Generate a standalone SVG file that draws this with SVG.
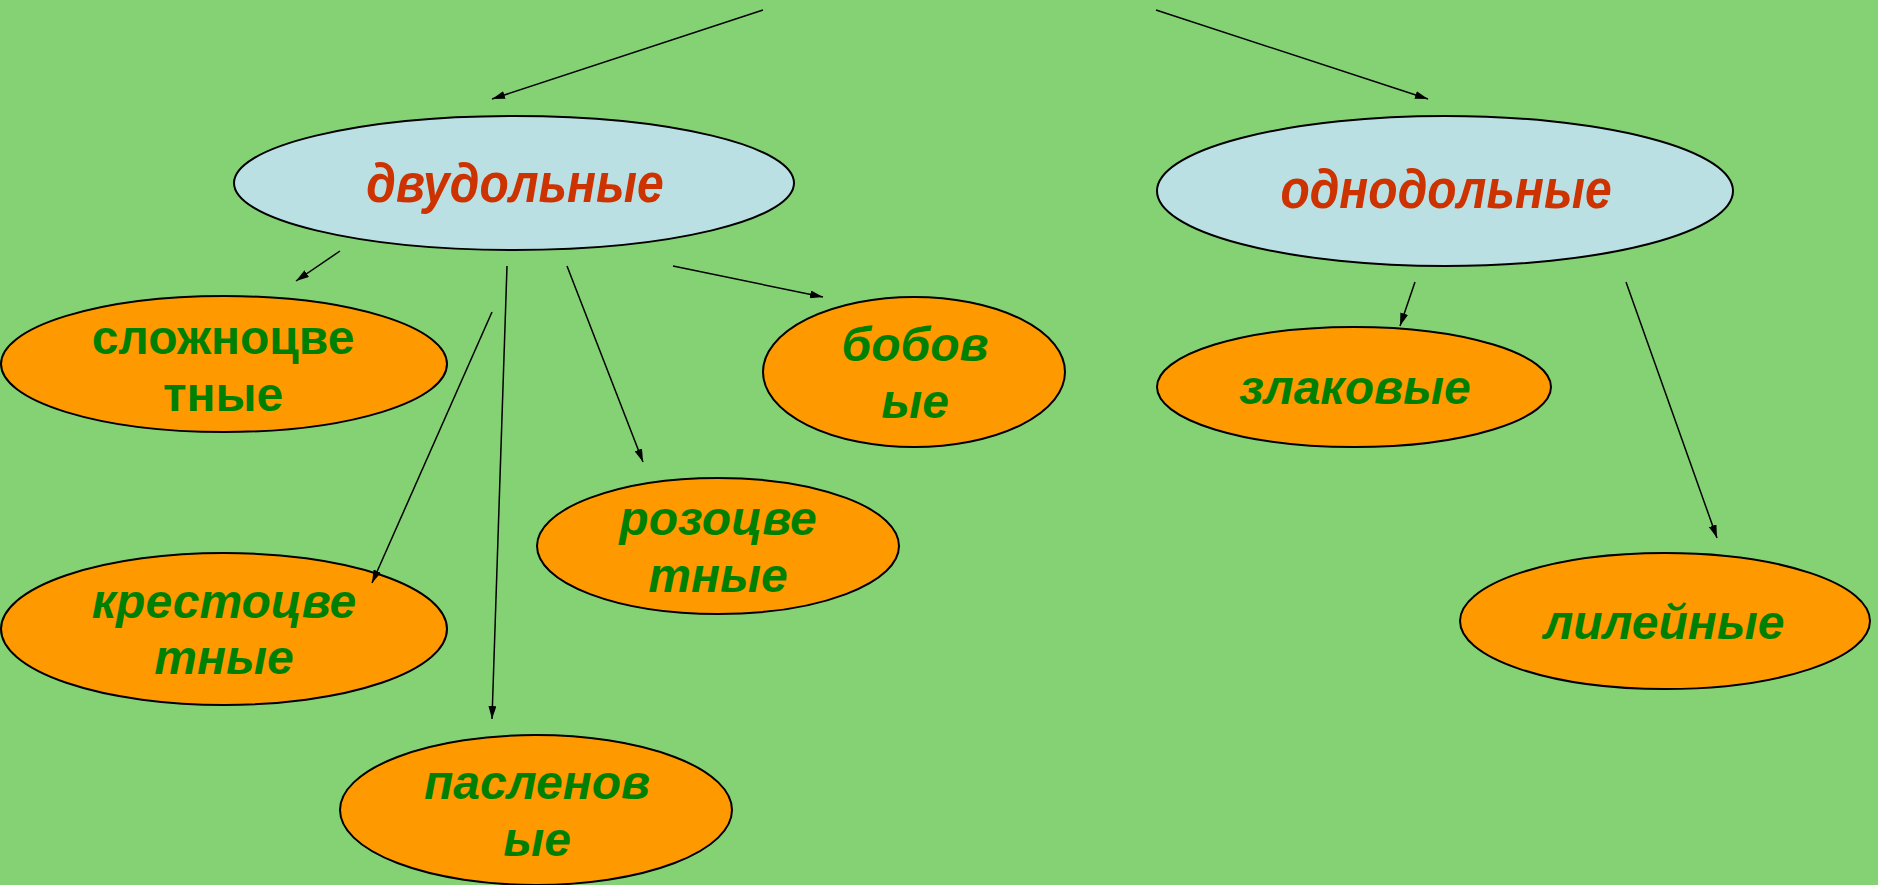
<svg xmlns="http://www.w3.org/2000/svg" width="1878" height="885" viewBox="0 0 1878 885">
<style>
.main{fill:#BBE0E3;stroke:#000;stroke-width:2}
.sub{fill:#FF9900;stroke:#000;stroke-width:2}
.t1{font-family:"Liberation Sans",Arial,sans-serif;font-weight:bold;font-style:italic;font-size:48px;fill:#CC3300;text-anchor:middle}
.t2{font-family:"Liberation Sans",Arial,sans-serif;font-weight:bold;font-style:italic;font-size:48px;fill:#008000;text-anchor:middle}
.n{font-style:normal}
.c{stroke:#000;stroke-width:1.5;fill:none;marker-end:url(#ah)}
</style>
<defs>
<marker id="ah" viewBox="0 0 13 8" refX="13" refY="4" markerWidth="13" markerHeight="8" markerUnits="userSpaceOnUse" orient="auto">
<path d="M0,0 L13,4 L0,8 Z" fill="#000"/>
</marker>
</defs>
<rect width="1878" height="885" fill="#85D275"/>
<g id="dvudolnye">
<ellipse class="main" cx="514" cy="183" rx="280" ry="67"/>
<text class="t1" transform="translate(515,202) scale(1,1.17)">двудольные</text>
</g>
<g id="odnodolnye">
<ellipse class="main" cx="1445" cy="191" rx="288" ry="75"/>
<text class="t1" transform="translate(1446,208) scale(1,1.17)">однодольные</text>
</g>
<g id="slozhnocvetnye">
<ellipse class="sub" cx="224" cy="364" rx="223" ry="68"/>
<text class="t2 n" x="223" y="354">сложноцве</text>
<text class="t2 n" x="223" y="411">тные</text>
</g>
<g id="bobovye">
<ellipse class="sub" cx="914" cy="372" rx="151" ry="75"/>
<text class="t2" x="915" y="361">бобов</text>
<text class="t2" x="915" y="418">ые</text>
</g>
<g id="zlakovye">
<ellipse class="sub" cx="1354" cy="387" rx="197" ry="60"/>
<text class="t2" x="1355" y="404">злаковые</text>
</g>
<g id="krestocvetnye">
<ellipse class="sub" cx="224" cy="629" rx="223" ry="76"/>
<text class="t2" x="224" y="618">крестоцве</text>
<text class="t2" x="224" y="674">тные</text>
</g>
<g id="rozocvetnye">
<ellipse class="sub" cx="718" cy="546" rx="181" ry="68"/>
<text class="t2" x="718" y="535">розоцве</text>
<text class="t2" x="718" y="592">тные</text>
</g>
<g id="paslenovye">
<ellipse class="sub" cx="536" cy="810" rx="196" ry="75"/>
<text class="t2" x="537" y="799">пасленов</text>
<text class="t2" x="537" y="856">ые</text>
</g>
<g id="lilejnye">
<ellipse class="sub" cx="1665" cy="621" rx="205" ry="68"/>
<text class="t2" x="1664" y="639">лилейные</text>
</g>
<g id="connectors">
<line class="c" x1="763" y1="10" x2="492" y2="99"/>
<line class="c" x1="1156" y1="10" x2="1428" y2="99"/>
<line class="c" x1="340" y1="251" x2="296" y2="281"/>
<line class="c" x1="673" y1="266" x2="823" y2="297"/>
<line class="c" x1="567" y1="266" x2="643" y2="462"/>
<line class="c" x1="507" y1="266" x2="492" y2="719"/>
<line class="c" x1="492" y1="312" x2="372" y2="583"/>
<line class="c" x1="1415" y1="282" x2="1400" y2="326"/>
<line class="c" x1="1626" y1="282" x2="1717" y2="538"/>
</g>
</svg>
